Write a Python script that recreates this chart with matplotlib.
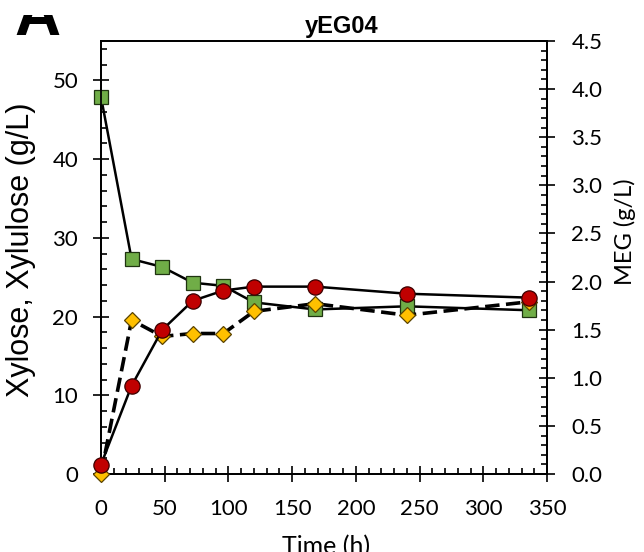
import matplotlib.pyplot as plt
from matplotlib.ticker import MultipleLocator
from matplotlib.patches import Rectangle

# sampling times (h)
time_h = [0, 24, 48, 72, 96, 120, 168, 240, 336]
# left axis (g/L)
xylose = [47.9, 27.3, 26.3, 24.3, 23.9, 21.8, 20.9, 21.3, 20.8]
xylulose = [1.2, 11.2, 18.3, 22.0, 23.3, 23.8, 23.8, 22.9, 22.4]
# right axis (g/L)
meg = [0.0, 1.60, 1.43, 1.46, 1.46, 1.69, 1.77, 1.65, 1.79]

x_ticks = [0, 50, 100, 150, 200, 250, 300, 350]
left_ticks = [0, 10, 20, 30, 40, 50]
right_ticks = [0.0, 0.5, 1.0, 1.5, 2.0, 2.5, 3.0, 3.5, 4.0, 4.5]

tick_font = 'Lato'
label_font = 'Liberation Sans'


def style_axis(ax, axis, pad):
    ax.tick_params(axis=axis, which='major', direction='inout', length=12,
                   width=1.2, pad=pad, labelsize=16, labelfontfamily=tick_font)
    ax.tick_params(axis=axis, which='minor', direction='in', length=4.5,
                   width=1.2)


def createPlot():
    fig = plt.figure(figsize=(6.44, 5.52), dpi=100, facecolor='white')
    ax = fig.add_axes([101 / 644, 78 / 552, 446 / 644, 433 / 552])
    ax2 = ax.twinx()

    ax.set_xlim(0, 350)
    ax.set_ylim(0, 55)
    ax2.set_ylim(0, 4.5)

    ax.set_xticks(x_ticks)
    ax.xaxis.set_minor_locator(MultipleLocator(10))
    ax.set_yticks(left_ticks)
    ax.yaxis.set_minor_locator(MultipleLocator(2))
    ax2.set_yticks(right_ticks)
    ax2.set_yticklabels(['%.1f' % v for v in right_ticks])
    ax2.yaxis.set_minor_locator(MultipleLocator(0.1))

    style_axis(ax, 'x', 12)
    style_axis(ax, 'y', 10.5)
    style_axis(ax2, 'y', 11.5)

    for a in (ax, ax2):
        for sp in a.spines.values():
            sp.set_linewidth(1.3)

    # xylose - green squares
    ax.plot(time_h, xylose, color='black', lw=1.8, marker='s', ms=9.6,
            mfc='#70AD47', mec='#1f3310', mew=0.9, clip_on=False, zorder=3)
    # MEG - yellow diamonds, dashed
    ax2.plot(time_h, meg, color='black', lw=2.6, ls=(0, (4, 1.8)),
             marker='D', ms=8, mfc='#FFC000', mec='#5a4300', mew=0.9,
             clip_on=False, zorder=3)
    # xylulose - red circles, on top of everything
    ax2.plot(time_h, xylulose, color='black', lw=1.8, marker='o', ms=11,
             mfc='#C00000', mec='#3a0000', mew=0.9, clip_on=False, zorder=4,
             transform=ax.transData)

    ax.set_ylabel('Xylose, Xylulose (g/L)', fontsize=22, family=label_font)
    ax.yaxis.set_label_coords(-0.146, 0.517)
    ax2.set_ylabel('MEG (g/L)', fontsize=17, family=tick_font)
    ax2.yaxis.set_label_coords(1.15, 0.56)
    ax.set_xlabel('Time (h)', fontsize=18, family=tick_font)
    ax.xaxis.set_label_coords(0.505, -0.14)
    ax.xaxis.label.set_va('top')

    ax.set_title('yEG04', fontsize=17, fontweight='bold', family=label_font,
                 x=0.54, pad=6)

    # panel letter, top of it cropped away in the source figure
    fig.text(14 / 644, 1 - 35 / 552, 'A', fontsize=46, fontweight='bold',
             family=label_font, va='baseline', ha='left')
    fig.add_artist(Rectangle((0, 1 - 15 / 552), 90 / 644, 15 / 552,
                             transform=fig.transFigure, facecolor='white',
                             edgecolor='none', zorder=10))

    fig.savefig('out.png', dpi=100, facecolor='white')


if __name__ == "__main__":
    createPlot()
